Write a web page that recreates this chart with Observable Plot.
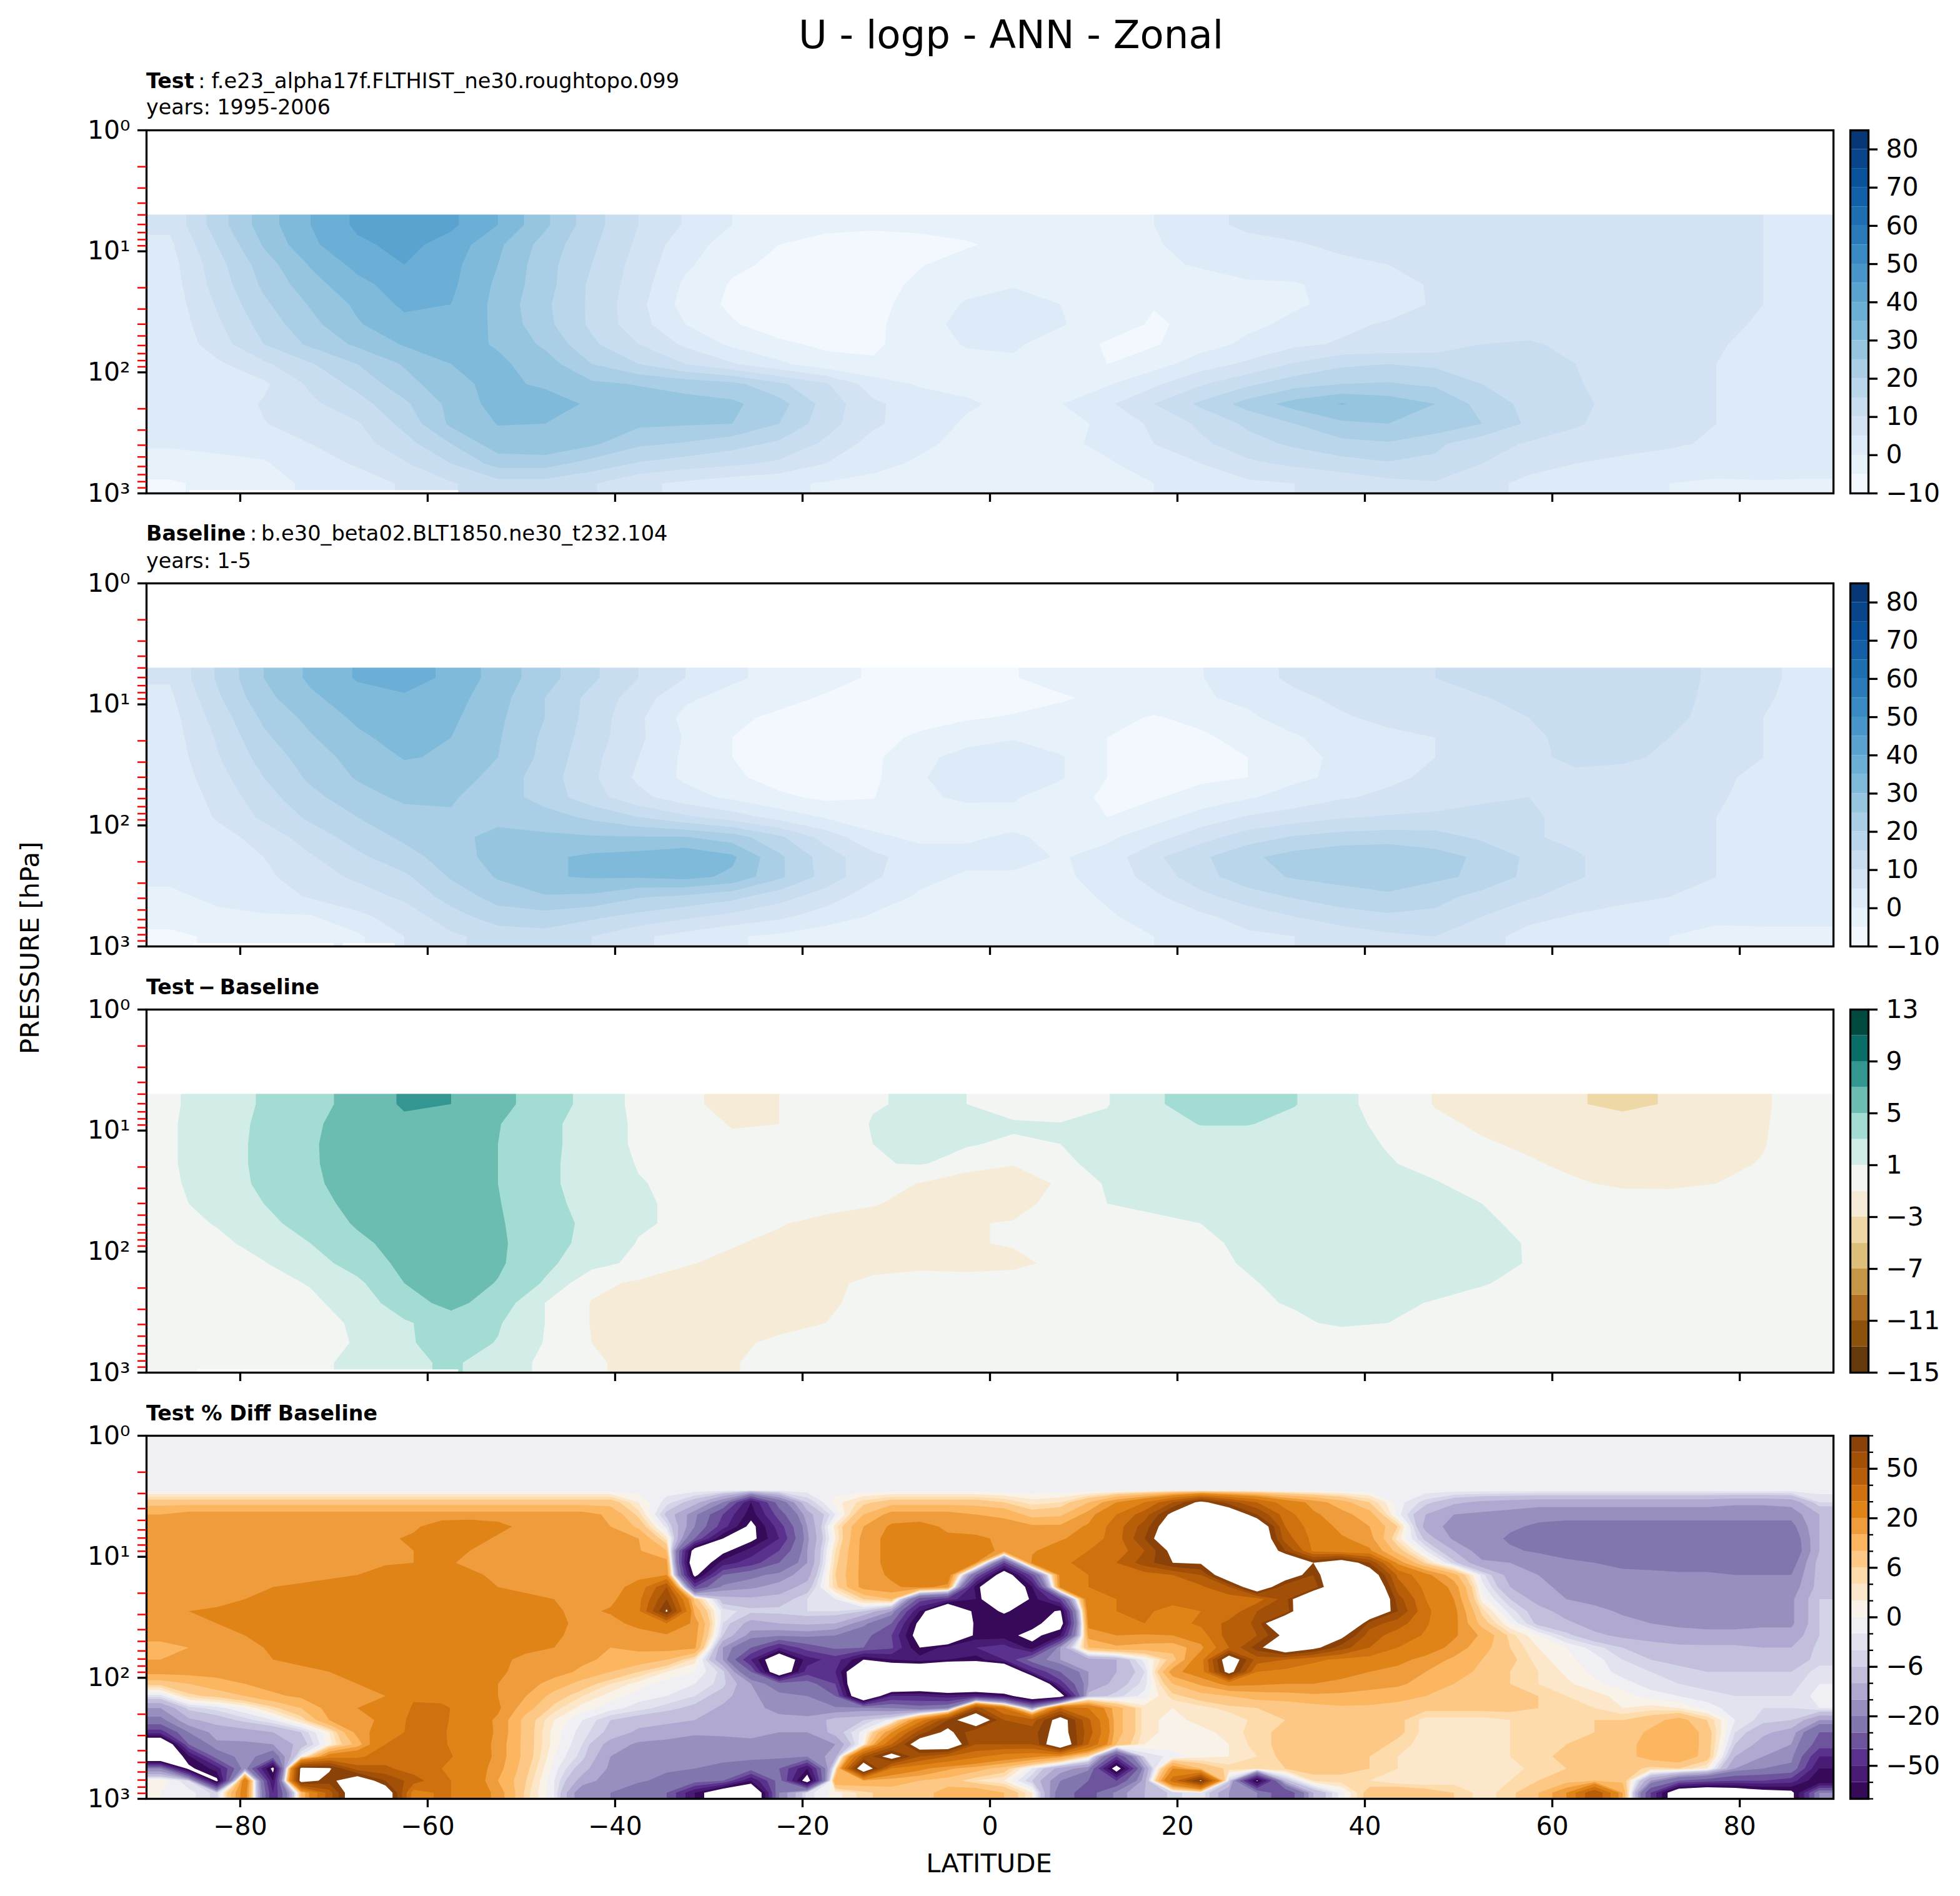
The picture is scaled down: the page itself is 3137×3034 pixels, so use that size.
<!DOCTYPE html>
<html><head><meta charset="utf-8">
<script src="https://cdn.jsdelivr.net/npm/d3@7"></script>
<script src="https://cdn.jsdelivr.net/npm/@observablehq/plot@0.6"></script>
<style>
html,body{margin:0;padding:0;background:#fff}
#fig{position:relative;width:3137px;height:3034px;overflow:hidden;font-family:"DejaVu Sans",sans-serif;color:#000}
#fig svg{position:absolute;left:0;background:transparent}
.t{position:absolute;white-space:pre;line-height:1}
</style></head><body><div id="fig"></div>
<script>
// ---- values: cell-centred grids; lat every 5 deg, top row 5 hPa side, bottom row 1000 hPa side
const testU = [
[6,17.5,27.5,35,41,44, 41,35,26,17,10,4.5, 0,-2.5,-3.5,-4,-3.5,-3, -2,-2,-1,0,3.5,6, 7,7.5,8,8,8,8, 8,8,7.5,7,5,3],
[4,15,25.5,34,39,41.5, 38,31,23,16,9,2, -2,-5,-7,-7.5,-7,-5.5, -3.5,-2.5,-1.5,-.5,2,3.5, 4.5,6,7,7.5,8,8, 8,8,8,7.5,5,3],
[3,13,22.5,30.5,36.5,40, 36.5,30,22,15,8,1, -4,-6,-8,-7.5,-5.3,-3, -2,-2,-1,-1,.5,1.5, 3,4,5,7,7.5,8, 8,8,8,7.5,5,3],
[2.5,12,21,28,33.5,37.5, 36,29,22,14,7.5,-1, -5.5,-8,-9,-7,-4,-1.5, -.5,-2,-2.5,-4,-2,-.5, -.5,2,3.5,5.5,7,7.5, 7.5,7.5,7.5,7,5,3],
[2,10.5,19,25.5,31,36, 35,28.5,21,14,6.5,-2, -6,-8.5,-9.8,-6.5,-3,.5, 2.5,0,-3,-4.8,-5,-2, -.5,1,3,5.5,7,7.5, 7.5,7.5,7,6.5,5,3],
[1.5,9,17,23.5,29.5,33.5, 33.5,29,21.5,14,7,0, -4.5,-7.5,-8,-6,-2.5,2, 3,.5,-3,-5.5,-4,-1, 1,4,5.5,7,8,8, 8,7.5,7,6,4.5,2.5],
[1,7.5,15,21,26,30.5, 32,29.5,24,16,10,4, -1,-4,-6,-5.7,-3,.5, .8,-2.5,-5.5,-5.5,-2,1, 4,5.5,6,7,10,10.5, 9,7.5,7,5.5,3.5,2.5],
[1,4,9,14.5,20,25.5, 30,31,27.5,20,15,10, 5.5,1,-3,-4.5,-3,-2, -1,-5,-5,-2,2.5,6, 10.5,14,15,14,11,10.5, 10,7.5,6.5,5,3.5,2],
[1,2.5,4,11,16.5,23, 28.5,31.5,29,26,24.7,23, 21.5,16,10.5,2.5,-.5,-1, -1,-1.5,-.5,4,9.5,14, 18,20,20.5,19,15,10.5, 10.5,7.5,6,5,3.5,2],
[.5,1.5,5.5,9,13,19, 26.5,32,33,29,27.5,27, 26,22,13,6,2.5,.5, -1,-.2,4,10,16,22, 27,30.3,28,25,18,13.5, 11,8.5,6.5,5,3.5,2],
[.5,1,4.8,7,9.5,16.5, 26,30.2,30,27,26,25.5, 25,20,12,6,2,-.5, -2,-2.5,1.5,6,11,16, 20,24,25,24,20,14, 10.5,8,6,5,3.5,2],
[.3,.5,2,5,8,13, 20,28,29,26,21,19.5, 17,14,9,3,.7,-1, -1.5,-1,1,5,9,13, 16,18.5,19.5,16,12,9.5, 8,6.5,5.5,4.5,3.5,2],
[-1,-.5,-.5,3,5.5,9.5, 15,22,22,18,14.5,12.5, 11,9,5,1,-.5,-1.5, -2,-1.5,-.5,2,5,9, 11,13,14.5,14,10,7, 5,4,3.5,3,2.5,1.5],
[-6,-3,-1,.5,3,5.5, 9.5,13,13,10.5,6,4, 2,1,-.5,-1,-1.5,-2, -2.5,-2,-1,0,2,4, 5,6,8.5,9.5,7,3.5, 2.5,1.5,0,-1,-.5,-.5]
];
const baseU = [
[5.5,15.5,25,31,35.5,38, 33.5,28,22,16,10,5, 1,-2,-3.5,-5.5,-7,-7, -5.2,-3.5,-2.5,-1,-.2,3, 6,7.5,9,10,11.5,12.5, 13,13.5,12,9,6,3.5],
[4,14,23.5,29,33,34, 32,27,20,13.5,7.5,1, -2,-3.5,-5.5,-8,-8.5,-8, -7,-5.5,-4,-2,-.5,1, 4,6,8,9,9.8,11, 13,13.5,12,8.5,5.5,3.5],
[3,12,21,26.5,31,33, 31,26,20,13,6,-1.5, -4,-6,-7.5,-8,-7,-5.5, -4.5,-3.5,-3.5,-5.5,-3.5,-.8, 2,4.5,6,7.5,8.5,10, 12.5,13.5,11.5,8,5,3.5],
[2.5,10.5,19,24.5,29,32, 30,25.5,19,12.5,6,-.5, -5,-6.5,-8,-7,-4,-2, -.5,-2.5,-5,-7,-6,-3, -.5,2,4,5,7,9, 11.5,12.5,10,7.5,5,3],
[2,9.5,17,22.5,27,30.3, 29.5,25,18.5,11.5,5,-1, -5,-7,-8,-6,-1.5,2, 3.5,.5,-5,-7,-7,-5, -1.5,1,3,5,7,9, 11,11,9,7,5,3],
[1.5,8,15,21,25.5,28, 28,23,17.5,11,4,-1, -4,-7,-7.5,-6,-.5,2.5, 3,.5,-5,-7,-6,-5, -1,1,4,6,7.5,8.5, 9,8,7,5.8,4,2.5],
[1,6.5,13,18.5,23,26, 25.5,22.5,18,12,6.5,2, -1,-4,-6,-5.2,-1,1, .5,-2.5,-6,-5.5,-3,-.5, 2,4.5,6,7.5,9.5,10, 8.5,7,6.5,5.5,3.5,2.5],
[.5,5.5,11,16,20,23, 24.5,24,22,19,15,11, 7.5,3,-.5,-2.5,-3,-2.5, -1.5,-3,-5,-2,2,5.5, 7.5,9.5,10.5,11,11,10.5, 9,7,6,5,3.5,2],
[.5,3,7,12.5,17,21, 24,26,26,25.5,25.3,25.2, 22.5,16,8,1,-1,-.5, .5,-1,-1,3,8,12.5, 15.5,17,17.5,17,14,10.5, 9,7,6,5,3.5,2],
[.5,2,5,9.5,14,18, 22.5,27,29,31,32,34, 31,21,12.5,6.5,2,1, 2,-.5,2,9,14,19, 22,24,24.5,22,19,14, 10.5,8,6.5,5,3.5,2],
[.5,1,4,7.5,11,14, 20.5,25.5,29.5,30.5,30.5,31.5, 29,21,13,6,1,-.5, -1,-1,2,7,13,18, 20.5,21.5,21.5,21,19,13.5, 10.5,8,6,5,3.5,2],
[-.5,.5,2.5,5.5,7.5,11, 17,22,24.5,24,20.5,19, 16.5,12,7.5,2,-.5,-1, -2,-1.5,.5,4,8.5,12.5, 15.5,18,19.5,17,13,10.5, 8,6,5,4.3,3,1.5],
[-1.5,-.5,-.5,-.5,4,7, 13,17.5,18,16,13.5,11, 8.5,6,2.5,-.5,-1.5,-2, -2.5,-2,-.5,1.5,4,7, 10,12.5,14,13.5,10,6.5, 4.5,3.5,2.5,1.5,1.5,1],
[-7,-3.5,-3,-3,-1,5, 9,12,13,10,6,3, .5,-1,-3,-3.5,-3.5,-3, -3,-2.5,-1.5,0,2,4, 5,7,9,10,7,3, 2,1,0,-2,-1.5,-1]
];
const diffU = [
[.7,2,3.2,4.5,5.5,7.3, 7,5.5,4.2,2.2,.5,-.8, -1.3,-1,0,.9,1.2,1, .2,-.3,.9,2.7,4,4.3, 3.1,1.4,.3,-1.1,-1.7,-2.2, -2.8,-3.6,-2.8,-2,-1.3,.3],
[.8,2,3.4,4.7,5.8,6.5, 6.2,5.1,3.6,2,.7,-.3, -1.1,-1,0,1.1,1.5,1.4, 1.2,1.1,1.4,2,3.1,3.1, 2.4,1.5,.6,-.6,-1.3,-1.7, -1.9,-2,-2,-1.7,-1.2,.3],
[.8,2,3.5,4.8,5.9,6.5, 6,5,3.6,2,.7,0, -.7,-.9,0,1,1.4,1.1, .8,1,1.4,1.7,1.8,1.8, 1.7,1.5,.9,.1,-.8,-1.3, -1.6,-1.8,-1.7,-1.5,-1.1,.2],
[.8,2,3.5,4.8,5.8,6.4, 6,5,3.5,2,.9,.5, 0,-.3,.2,.9,1.1,.5, -.8,.8,1.3,1.6,1.8,1.8, 1.7,1.5,1.1,.6,.1,-.8, -1.4,-1.7,-1.6,-1.4,-.9,.1],
[.7,1.9,3.4,4.7,5.7,6.3, 5.9,5,3.5,2,1.1,.6, .4,.2,.2,.1,-1.1,-2.9, -3,-.5,1.2,1.5,1.7,1.8, 1.7,1.6,1.4,1.1,.5,0, -.8,-1.3,-1.3,-1,-.6,.1],
[.6,1.6,3,4.4,5.5,6.2, 5.9,5.1,3.7,2.2,1.2,.7, .3,-.1,-.5,-.9,-1.4,-1.9, -2,0,1,1.2,1.3,1.6, 1.7,1.7,1.6,1.3,1,.6, .3,-.1,-.2,0,.1,.1],
[.4,1.1,2.4,3.9,5.2,6, 5.9,5.2,3.9,2.5,1.2,.7, .2,-.9,-1.4,-1.6,-1.5,-1.2, -.8,0,.3,.8,1,1.3, 1.4,1.6,1.6,1.5,1.3,.6, .2,0,0,0,.1,.1],
[.1,.6,1.6,3,4.6,5.7, 5.9,5.3,3.9,2.3,.9,0, -.9,-1.3,-1.5,-1.5,-1.2,-1.1, -.9,-.5,-.1,.3,.8,1.2, 1.4,1.6,1.7,1.7,1.5,.9, .3,.1,0,0,0,0],
[.1,.3,.9,2.2,3.8,5.5, 6,5.3,3.5,1.7,.5,-.9, -1.3,-1.5,-1.6,-1.3,-1.3,-1.4, -1.3,-.7,-.2,.2,.7,1.1, 1.4,1.6,1.7,1.7,1.6,.9, .2,.1,0,0,0,0],
[0,.2,.5,1.1,2.6,5, 6,4.9,2.8,-.5,-1.3,-1.5, -1.6,-1.5,-1.2,-.8,-.5,-.5, -.4,-.2,0,.2,.5,.9, 1.3,1.5,1.6,1.5,1.1,.6, .2,.1,0,0,0,0],
[0,.1,.3,.7,1.7,4.3, 5.5,4.2,1,-1.1,-1.4,-1.5, -1.5,-1.3,-1.1,-.8,-.5,-.3, -.2,-.1,0,.2,.5,.8, 1.1,1.4,1.3,.9,.5,.2, .1,0,0,0,0,0],
[0,0,.1,.5,1.2,2.7, 4.2,3.2,1,-1.1,-1.4,-1.5, -1.4,-1.3,-1,-.7,-.5,-.3, -.2,-.1,0,.1,.3,.5, .8,1.2,1,.5,.2,.1, 0,0,0,0,0,0],
[0,0,.1,.5,1.1,2.7, 3.9,2.9,.9,-1,-1.4,-1.4, -1.2,-.8,-.5,-.3,-.2,-.1, 0,0,0,0,.1,.1, .2,.2,.2,.1,0,0, 0,0,0,0,0,0],
[0,0,.2,.7,1.3,2.4, 3.4,1.8,.7,-.8,-1.4,-1.3, -1.1,-.5,-.2,-.1,0,0, 0,0,0,0,0,0, 0,0,0,0,0,0, 0,0,0,0,0,0]
];
// lat every 3 deg, log10(p) every 0.1 from 1 hPa down to 1000 hPa
const aloft = [-1,-1,-1,-1,-1,-1,-1,-1,-1,-1,-1,-1,-1,-1,-1,-1,-1,-1,-1,-1,-1,-1,-1,-1,-1,-1,-1,-1,-1,-1,-1,-1,-1,-1,-1,-1,-1,-1,-1,-1,-1,-1,-1,-1,-1,-1,-1,-1,-1,-1,-1,-1,-1,-1,-1,-1,-1,-1,-1,-1];
const pctU = [aloft,aloft,aloft,aloft,aloft,
[8,8,8,8,8,8,8,8,8,8,8,8,8,8,8,8,8, 2,-3,-8,-20,-60,-25,-6,1,5,8,8, 8,8,6,3,4,10,20,30,50,75,55,40,25,18,12,6,-1,-5,-9,-11,-12,-13,-13,-13,-13,-13,-13,-13,-14, -14,-13,-4],
[15,17,17,17,17,17,17,17,17,17,17,17,17,17,17,17,14, 5,-7,-18,-40,-65,-35,-12,-2,10,17,17, 17,15,14,8,9,17,30,45,75,90,90,60,35,21,17,12,-1,-10,-15,-16,-17,-18,-18,-18,-18,-18,-18,-18,-18, -18,-18,-10],
[15,16,16,17,17,17,18,18,18,19,23,24,22,18,17,17,15, 9,-3,-20,-45,-75,-45,-15,3,15,21,22, 19,18,17,16,16,21,35,55,85,110,110,90,40,25,18,15,6,-12,-17,-18,-19,-21,-22,-22,-22,-22,-22,-22,-22, -22,-22,-10],
[15,16,16,17,17,17,18,18,19,21,25,23,19,18,17,17,16, 15,3,-30,-70,-75,-50,-16,2,17,22,24, 21,21,19,18,19,24,35,60,90,110,120,95,45,27,21,17,3,-7,-16,-17,-21,-23,-24,-25,-25,-25,-25,-25,-25, -25,-25,-10],
[15,16,16,17,17,17,18,18,18,20,24,20,19,18,17,17,16, 15.5,10,-80,-75,-55,-40,-15,4,17,22,24, 22,22,19,19,25,30,33,50,75,100,110,100,60,28,22,21,8,-2,-10,-18,-19,-21,-24,-26,-26,-26,-26,-26,-26, -26,-26,-10],
[15,16,16,17,17,17,18,19,19.5,20,21,19,18,18,17,17,17, 16,17,-90,-55,-45,-30,-15,5,17,22,24, 23,20,-40,22,25,38,40,55,70,72,100,110,100,70,85,60,18,5,-5,-14,-15,-16,-18,-20,-22,-23,-23,-23,-23, -23,-23,-8],
[16,17,17,17,18,18,19,20,22,23,23,21,19,18,17,17,17, 18,20,-75,-30,-22,-18,-12,6,17,21,24, 26,-30,-85,-35,22,30,31,35,40,50,90,110,85,60,100,85,38,22,12,-3,-12,-15,-17,-17,-18,-18,-19,-19,-20, -20,-20,-8],
[16,17,17,18,20,21,22,22,24,25,26,24,20,19,18,18,17, 23,50,-40,-18,-16,-13,-8,5,17,19,22, 18,-65,-100,-60,22,30,31,34,36,38,50,90,52,52,100,100,45,27,18,-1,-10,-14,-16,-16,-17,-17,-17,-17,-18, -18,-18,-8],
[16,18,18,20,21,21,22,23,24,25,24,23,21,21,20,18,18, 27,60,8,-8,-9,-8,-4,-2,6,10,-35, -45,-60,-110,-65,-40,28,30,33,32,32,34,35,55,110,110,110,55,30,20,1,-6,-12,-15,-16,-16,-16,-16,-16,-16, -16,-16,-6],
[17,20,21,21,21,22,22,23,25,26,25,24,22,22,21,18,21, 28,72,13,-3,-5,-5,-4,-4,-6,-15,-60, -110,-62,-72,-62,-72,25,30,31,28,30,33,50,50,120,90,100,60,32,22,5,-3,-8,-12,-14,-15.5,-16,-16,-16,-16, -16,-16,-6],
[18,19,20,21,22,22,23,24,25,26,25,24,23,23,21,19,17, 23,30,18,-4,-12,-10,-9,-10,-18,-30,-75, -120,-65,-62,-65,-80,22,25,30,26,32,43,52,110,130,120,55,45,31,22,8,0,-7,-9,-12,-14,-15,-16,-16,-16, -16,-16,-6],
[16,17,18,20,22,22,23,24,26,27,26,25,22,22,21,18,16, 16,19,17,-6,-17,-19,-18,-20,-26,-40,-80, -110,-65,-65,-75,-60,17,20,19,20,25,45,50,75,110,75,45,35,29,21,14,5,0,-5,-9,-11,-12,-13,-14,-14, -13,-13,-6],
[14,15,16,18,21,22,23,24,26,27,26,24,22,21,20,17,15, 16,17,16,-15,-30,-50,-35,-28,-30,-38,-70, -55,-50,-45,-65,-15,10,14,13,12,18,40,65,90,75,55,40,30,24,18,12,6,2,0,-3,-6,-8,-9,-9,-9, -10,-10,-5],
[15,16,17,18,20,21,22,23,24,25,25,23,21,19,17,16,14, 13,10,3,-15,-50,-90,-55,-45,-70,-60,-55, -60,-65,-50,-25,-15,-12,-10,-1,8,25,85,45,40,32,28,26,22,18,14,10,7,3,.5,-1,-4,-6,-7,-7,-8, -8,-8,-5],
[17,17,17,18,18,19,20,21,22,22,22,22,21,18,17,14,10, 6,2,0,-5,-30,-90,-45,-50,-100,-100,-100, -120,-110,-110,-50,-30,-15,-10,-4,18,24,78,30,27,25,23,20,18,15,12,9,6,4,1.5,-.5,-3,-4,-5,-6,-6, -6,-6,-3],
[7,10,13,15,17,18,19,20,21,21,21,21,20,17,13,8,4, 1,-1,-2,-5,-15,-25,-25,-40,-110,-110,-100, -115,-110,-115,-110,-45,-15,-8,-3,10,16,22,21,20,20,18,17,16,13,10,8,6,4,2.5,.5,-1,-3,-4,-5,-5, -5,-5,-2],
[-3,5,7,10,14,16,18,19,20,29,25,21,20,15,8,4,1, -1,-2,-4,-8,-14,-18,-20,-30,-100,-50,-50, -55,-50,-60,-90,-80,-8,-5,-1,5,8,10,12,13,14,14,13,12,10,8,8,7,6,4,3,1,-1,-2,-3,-4, -4,-4,-1],
[-15,-5,-3,0,5,10,17,20,22,31,33,23,21,12,5,1,-1, -3,-5,-7,-11,-14,-16,-17,-19,-18,-20,-25, -20,55,30,-15,40,30,12,3,2,3,5,6,6,8,9,9,8,7,7,7,7,6,5,4,2,3,2,-1,-3, -4,-4,-2],
[-22,-11,-8,-5,-2,4,15,17,22,33,32,24,19,8,2,-2,-6, -8,-9,-10,-12,-12,-14,-14,-8,-6,-1,25, 60,90,50,45,80,42,12,3,1,3,2,5,6,8,9,9,7,3,3,3,4,5,5,6,6,8,12,6,-2, -5,-6,-15],
[-45,-20,-13,-12,-10,-6,2,17,24,33,31,25,19,8,1,-3,-7, -11,-12,-14,-14,-14,-15,-15,-8,-1,20,55, 75,50,60,55,80,45,12,3,1,1,3,5,7,9,9,9,7,3,3,3,4,5,5,6,7,11,15,8,-4, -9,-12,-30],
[-100,-30,-16,-16,-15,-8,1,12,30,33,31,26,18,8,1,-4,-12, -16,-17,-18,-17,-16,-16,-17,-15,1,40,85, 90,50,50,50,90,40,10,2,1,1,2,5,7,8,8,8,5,3,3,3,4,5,6,6,8,12,15,8,-6, -12,-15,-35],
[-100,-62,-25,-17,-25,-1,25,28,35,33,32,27,18,8,0,-5,-15, -18,-18,-18,-18,-18,-18,-20,-12,50,80,50, 40,32,25,22,17,4,-40,-4,-1,1,2,4,7,8,8,6,4,3,3,3,4,5,7,8,8,12,14,8,-10, -15,-18,-50],
[-20,-74,-55,-15,-75,75,72,45,42,35,30,25,17,7,-1,-8,-16, -18,-19,-20,-22,-25,-30,-60,2,90,30,22, 16,12,8,-2,-12,-18,-80,-15,20,10,5,5,6,8,7,6,4,3,2,3,3,5,6,7,8,5,6,2,-15, -20,-22,-60],
[2,-4,-74,30,-60,78,65,85,60,45,32,26,15,6,-2,-12,-18, -19,-22,-25,-30,-60,-25,-80,15,14,12,10, 8,4,2,-6,-20,-30,-40,-12,35,72,-5,-72,-8,4,5,4,2,2,3,3,4,6,8,10,9,-15,-30,-35,-40, -40,-45,-70],
[0,-1,-5,25,-50,10,45,90,85,25,32,26,18,5,-2,-20,-20, -25,-30,-60,-90,-100,-20,-3,1,5,8,8, 12,14,10,2,-25,-35,-18,-10,-5,-2,-15,-20,-40,-10,-1,8,10,8,6,3,5,10,20,50,15,-40,-90,-100,-90, -80,-75,-20]
];
for (const [n,g,w] of [["testU",testU,36],["baseU",baseU,36],["diffU",diffU,36],["pctU",pctU,60]]) g.forEach((r,i)=>{if(r.length!==w) throw new Error(n+" row "+i+" has "+r.length)});

const latTicks = [-80,-60,-40,-20,0,20,40,60,80];
const majorP = [1,10,100,1000];
const minorP = [2,3,4,5,6,7,8,9,20,30,40,50,60,70,80,90,200,300,400,500,600,700,800,900];
const uLevels = [-10,-5,0,5,10,15,20,25,30,35,40,45,50,55,60,65,70,75,80,85];
const uTicks = [-10,0,10,20,30,40,50,60,70,80];
const dLevels = [-15,-13,-11,-9,-7,-5,-3,-1,1,3,5,7,9,11,13];
const dTicks = [-15,-11,-7,-3,1,5,9,13];
const pLevels = [-70,-60,-50,-40,-30,-20,-15,-10,-6,-4,-2,0,2,4,6,10,15,20,30,40,50,60,70];
const pTicks = [-50,-20,-6,0,6,20,50];
// latitude spans with no data just above the 1000 hPa edge (log10 p from 2.976)
const testGaps = [[-85.4,-56.7]];
const baseGaps = [[-85,-70],[-69,-63.5]];
const diffGaps = [[-84.5,-56.7]];

// ---- colour maps
const Blues=["#f7fbff","#deebf7","#c6dbef","#9ecae1","#6baed6","#4292c6","#2171b5","#08519c","#08306b"];
const PuOrR=["#2d004b","#542788","#8073ac","#b2abd2","#d8daeb","#f7f7f7","#fee0b6","#fdb863","#e08214","#b35806","#7f3b08"];
const diffBands=["#66390a","#8c510a","#ad6e22","#c69545","#debf7a","#eed9a6","#f5ebd6","#f3f5f3","#d2ece8","#a3dcd2","#6bbdb2","#339691","#0a6e68","#004a3f"];
function bandColors(cm,n){const f=d3.piecewise(d3.interpolateRgb,cm);return d3.range(n).map(i=>f((i+.5)/n))}
function colorScale(levels,cm){const n=levels.length-1;const c=cm.length===n?cm:bandColors(cm,n);return {type:"threshold",domain:levels.slice(1),range:[...c,"#ffffff"]}}

// ---- layout
const FW=3137, PH=581, MT=10, MB=90, L=234, R=2934, CL=2961, CR=2990, TS=14, LW=3.3, FS=41;
const fig=document.getElementById("fig");
const minus=d=>String(d).replace("-","\u2212");
const sup={0:"\u2070",1:"\u00b9",2:"\u00b2",3:"\u00b3"};
// repeat the edge rows and columns outside the frame so the contour rim stays hidden
function padEdges(grid){
  const rows=grid.map(r=>[r[0],...r,r[r.length-1]]);
  return [rows[0],...rows,rows[rows.length-1]];
}

function panel({top,grid,w,levels,cm,topP,showX,gaps=[]}){
  const h=grid.length, dx=180/w, topLog=Math.log10(topP), dy=(3-topLog)/h;
  const marks=[
    Plot.contour(padEdges(grid).flat(),{width:w+2,height:h+2,x1:-90-dx,x2:90+dx,y1:topLog-dy,y2:3+dy,value:Plot.identity,fill:"value",thresholds:levels,stroke:"none",clip:true}),
    Plot.rect(gaps,{x1:"0",x2:"1",y1:2.976,y2:3,fill:"#fff"})
  ];
  if(topP>1) marks.push(Plot.rect([topLog],{x1:-90,x2:90,y1:0,y2:d=>d,fill:"#fff"}));
  marks.push(
    Plot.frame({stroke:"#000",strokeWidth:LW,fill:"none"}),
    Plot.axisY(minorP.map(Math.log10),{anchor:"left",tickSize:TS,stroke:"#ff0000",strokeWidth:2.5,text:null,label:null}),
    Plot.axisY(majorP.map(Math.log10),{anchor:"left",tickSize:TS,stroke:"#000",strokeWidth:LW,tickPadding:12,fontSize:FS,fontFamily:"DejaVu Sans",fill:"#000",label:null,
      tickFormat:d=>"10"+sup[Math.round(d)]}),
    showX
     ? Plot.axisX(latTicks,{anchor:"bottom",tickSize:TS,stroke:"#000",strokeWidth:LW,tickPadding:14,fontSize:FS,fontFamily:"DejaVu Sans",fill:"#000",label:null,tickFormat:minus})
     : Plot.axisX(latTicks,{anchor:"bottom",tickSize:TS,stroke:"#000",strokeWidth:LW,text:null,label:null})
  );
  const el=Plot.plot({
    width:FW, height:PH+MT+MB, marginTop:MT, marginBottom:MB, marginLeft:L, marginRight:FW-R,
    style:{background:"transparent",fontFamily:"DejaVu Sans",overflow:"visible"},
    x:{domain:[-90,90],axis:null}, y:{domain:[3,0],axis:null},
    color:colorScale(levels,cm),
    marks
  });
  el.style.top=(top-MT)+"px"; fig.appendChild(el);
}
function cbar({top,levels,cm,domain,ticks,tickText,pos,minor}){
  const bands=levels.slice(0,-1).map((lo,i)=>({lo,a:pos(lo,i),b:pos(levels[i+1],i+1)}));
  const marks=[
    Plot.rect(bands,{x1:0,x2:1,y1:"a",y2:"b",fill:"lo"}),
    Plot.frame({stroke:"#000",strokeWidth:LW,fill:"none"})
  ];
  if(minor) marks.push(Plot.axisY(minor,{anchor:"right",tickSize:7,stroke:"#000",strokeWidth:LW*.7,text:null,label:null}));
  marks.push(Plot.axisY(ticks,{anchor:"right",tickSize:TS,stroke:"#000",strokeWidth:LW,tickPadding:14,fontSize:FS,fontFamily:"DejaVu Sans",fill:"#000",label:null,tickFormat:tickText,textAnchor:"start"}));
  const el=Plot.plot({
    width:FW,height:PH+MT+MB,marginTop:MT,marginBottom:MB,marginLeft:CL,marginRight:FW-CR,
    style:{background:"transparent",fontFamily:"DejaVu Sans",overflow:"visible"},
    x:{domain:[0,1],axis:null}, y:{domain,axis:null},
    color:colorScale(levels,cm),
    marks
  });
  el.style.top=(top-MT)+"px"; fig.appendChild(el);
}

const tops=[208,933,1615,2297];
panel({top:tops[0],grid:testU,w:36,levels:uLevels,cm:Blues,topP:5,gaps:testGaps});
panel({top:tops[1],grid:baseU,w:36,levels:uLevels,cm:Blues,topP:5,gaps:baseGaps});
panel({top:tops[2],grid:diffU,w:36,levels:dLevels,cm:diffBands,topP:5,gaps:diffGaps});
panel({top:tops[3],grid:pctU,w:60,levels:pLevels,cm:PuOrR,topP:1,showX:true});

const same=v=>v;
cbar({top:tops[0],levels:uLevels,cm:Blues,domain:[-10,85],ticks:uTicks,tickText:minus,pos:same});
cbar({top:tops[1],levels:uLevels,cm:Blues,domain:[-10,85],ticks:uTicks,tickText:minus,pos:same});
cbar({top:tops[2],levels:dLevels,cm:diffBands,domain:[-15,13],ticks:dTicks,tickText:minus,pos:same});
cbar({top:tops[3],levels:pLevels,cm:PuOrR,domain:[0,22],ticks:pTicks.map(v=>pLevels.indexOf(v)),tickText:i=>minus(pLevels[i]),pos:(v,i)=>i,minor:d3.range(0,23)});

function text(s,x,y,size,opts={}){
  const d=document.createElement("div");d.className="t";d.innerHTML=s;
  d.style.left=x+"px";d.style.top=(y-size/2)+"px";d.style.fontSize=size+"px";
  if(opts.center)d.style.transform="translateX(-50%)";
  if(opts.rot)d.style.transform="translate(-50%,0) rotate(-90deg)";
  fig.appendChild(d);
}
const nm=s=>`<span style="font-size:33.7px">${s}</span>`;
text("U - logp - ANN - Zonal",1618,56,62.5,{center:true});
text("<b>Test</b>\u2009:\u2009\u200a"+nm("f.e23_alpha17f.FLTHIST_ne30.roughtopo.099"),234,130,33.3);
text("years: 1995-2006",234,172,33.3);
text("<b>Baseline</b>\u2009:\u2009"+nm("b.e30_beta02.BLT1850.ne30_t232.104"),234,854,33.3);
text("years: 1-5",234,898,33.3);
text("<b>Test\u2009\u2212\u2009Baseline</b>",234,1580,33.3);
text("<b>Test % Diff Baseline</b>",234,2262,33.3);
text("LATITUDE",1583,2982,41.7,{center:true});
text("PRESSURE [hPa]",48,1517,41.7,{rot:true});
</script></body></html>
